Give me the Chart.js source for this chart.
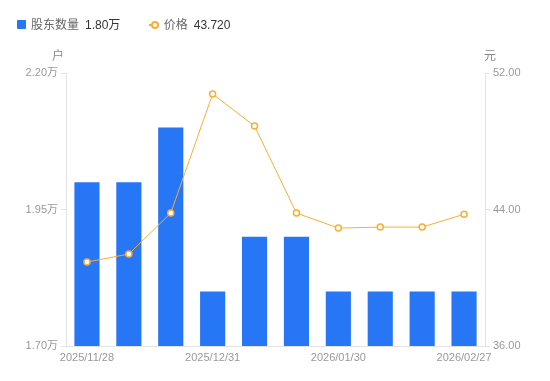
<!DOCTYPE html>
<html>
<head>
<meta charset="utf-8">
<script src="https://cdn.jsdelivr.net/npm/chart.js@4"></script>
<style>
  body { margin:0; background:#fff; font-family: "Liberation Sans", "Noto Sans CJK SC", sans-serif; }
  #wrap { position:relative; width:550px; height:381px; }
  #legend { position:absolute; left:17px; top:16px; font-size:12px; line-height:16px; white-space:nowrap; }
  #legend span { display:inline-block; vertical-align:middle; }
  .name { color:#666; margin-left:5px; }
  .val { color:#333; margin-left:6px; }
  .sq { width:9px; height:9px; background:#2776f5; border-radius:1px; }
  .ln { position:relative; width:10px; height:10px; margin-left:25px; }
  .ln:before { content:''; position:absolute; left:0; right:0; top:4px; height:2px; background:#f9ae34; }
  .ln:after { content:''; position:absolute; left:2px; top:1px; width:4px; height:4px; border:2px solid #f9ae34; border-radius:50%; background:#fff; }
</style>
</head>
<body>
<div id="wrap">
  <div id="legend">
    <span class="sq"></span><span class="name">股东数量</span><span class="val" id="v1"></span>
    <span class="ln"></span><span class="name">价格</span><span class="val" id="v2"></span>
  </div>
  <canvas id="c" width="550" height="381"></canvas>
</div>
<script>
var dates = ['2025/11/28','2025/12/10','2025/12/19','2025/12/31','2026/01/09','2026/01/20','2026/01/30','2026/02/06','2026/02/13','2026/02/27'];
var shownDates = ['2025/11/28','2025/12/31','2026/01/30','2026/02/27'];
var holders = [2.00, 2.00, 2.10, 1.80, 1.90, 1.90, 1.80, 1.80, 1.80, 1.80]; // 万户
var price = [40.92, 41.39, 43.79, 50.77, 48.89, 43.79, 42.91, 42.97, 42.97, 43.72];
var leftTicks = [1.70, 1.95, 2.20];
var rightTicks = [36, 44, 52];

document.getElementById('v1').textContent = holders[holders.length-1].toFixed(2) + '万';
document.getElementById('v2').textContent = price[price.length-1].toFixed(3);

var font = { family: '"Liberation Sans", "Noto Sans CJK SC", sans-serif', size: 11 };

var unitPlugin = {
  id: 'units',
  afterDraw: function(chart) {
    var ctx = chart.ctx, a = chart.chartArea;
    ctx.save();
    ctx.fillStyle = '#888';
    ctx.font = '12px "Liberation Sans", "Noto Sans CJK SC", sans-serif';
    ctx.textAlign = 'center';
    ctx.textBaseline = 'middle';
    ctx.fillText('户', a.left - 8, 57);
    ctx.fillText('元', a.right + 5, 57);
    ctx.restore();
  }
};

new Chart(document.getElementById('c'), {
  type: 'bar',
  data: {
    labels: dates,
    datasets: [{
      type: 'line',
      label: '价格',
      data: price,
      yAxisID: 'y1',
      borderColor: '#f9ae34',
      borderWidth: 1,
      pointRadius: 3,
      pointBorderWidth: 1.5,
      pointBackgroundColor: '#fff',
      pointBorderColor: '#f9ae34',
      tension: 0,
      order: 0
    }, {
      label: '股东数量',
      data: holders,
      yAxisID: 'y',
      backgroundColor: '#2776f5',
      barPercentage: 0.6,
      categoryPercentage: 1,
      order: 1
    }]
  },
  options: {
    responsive: false,
    animation: false,
    layout: { padding: { top: 73, left: 0, right: 0, bottom: 0 } },
    plugins: { legend: { display: false }, tooltip: { enabled: false } },
    scales: {
      x: {
        grid: { display: false, drawTicks: false },
        border: { color: '#e3e3e3' },
        afterFit: function(s) { s.height = 35; },
        ticks: {
          autoSkip: false, maxRotation: 0, color: '#999', font: font, padding: 5,
          callback: function(v, i) { return shownDates.indexOf(dates[i]) >= 0 ? dates[i] : ''; }
        }
      },
      y: {
        position: 'left', min: 1.70, max: 2.20,
        afterFit: function(s) { s.width = 66; },
        afterBuildTicks: function(s) { s.ticks = leftTicks.map(function(v){ return { value: v }; }); },
        grid: { drawOnChartArea: false, tickLength: 5, color: '#e3e3e3' },
        border: { color: '#e3e3e3' },
        ticks: { color: '#999', font: font, padding: 3, callback: function(v) { return v.toFixed(2) + '万'; } }
      },
      y1: {
        position: 'right', min: 36, max: 52,
        afterFit: function(s) { s.width = 65; },
        afterBuildTicks: function(s) { s.ticks = rightTicks.map(function(v){ return { value: v }; }); },
        grid: { drawOnChartArea: false, tickLength: 5, color: '#e3e3e3' },
        border: { color: '#e3e3e3' },
        ticks: { color: '#999', font: font, padding: 3, callback: function(v) { return v.toFixed(2); } }
      }
    }
  },
  plugins: [unitPlugin]
});
</script>
</body>
</html>
